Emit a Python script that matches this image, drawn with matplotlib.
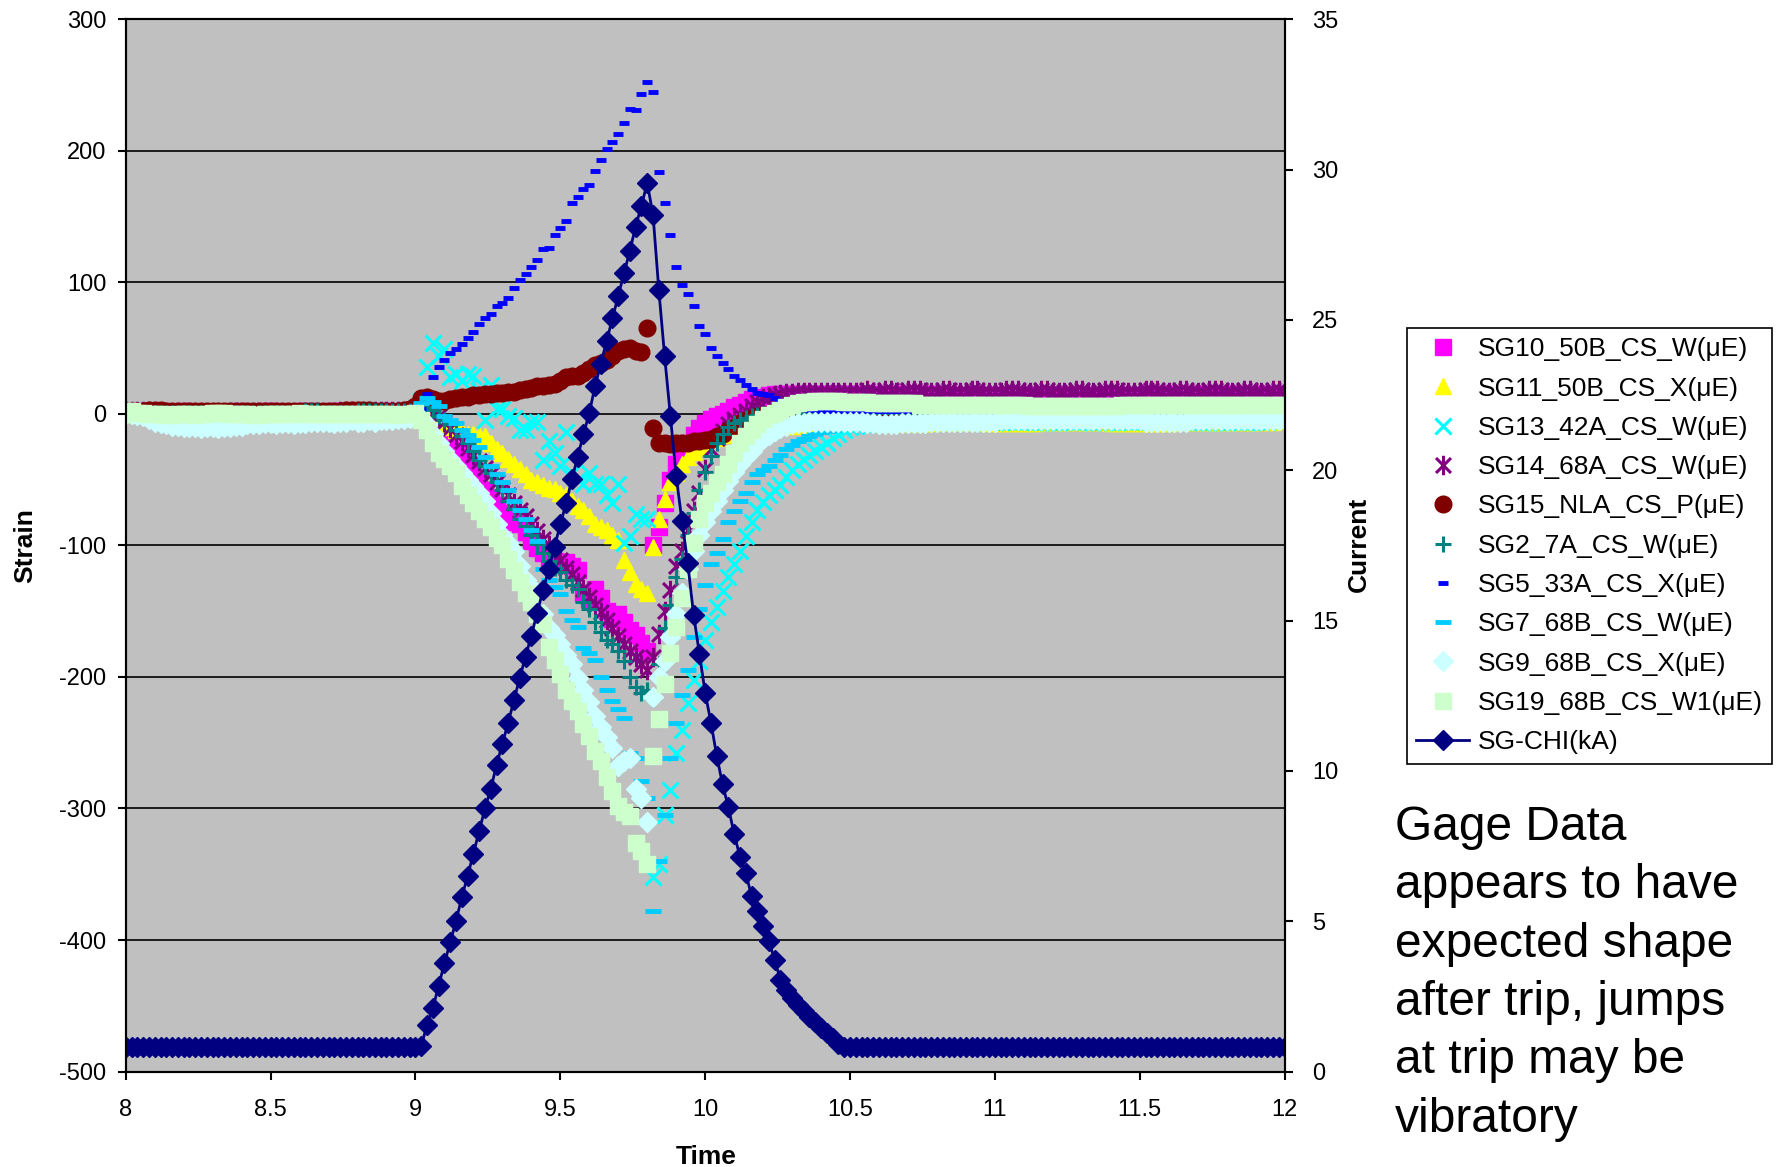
import matplotlib.pyplot as plt
from matplotlib.path import Path

plt.rcParams['font.family'] = ['Liberation Sans', 'DejaVu Sans']
plt.rcParams['axes.unicode_minus'] = False
narrow = ['Liberation Sans Narrow', 'Liberation Sans', 'DejaVu Sans']

# --------- DATA ---------
time_s = [
    8.00, 8.02, 8.04, 8.06, 8.08, 8.10, 8.12, 8.14, 8.16, 8.18,
    8.20, 8.22, 8.24, 8.26, 8.28, 8.30, 8.32, 8.34, 8.36, 8.38,
    8.40, 8.42, 8.44, 8.46, 8.48, 8.50, 8.52, 8.54, 8.56, 8.58,
    8.60, 8.62, 8.64, 8.66, 8.68, 8.70, 8.72, 8.74, 8.76, 8.78,
    8.80, 8.82, 8.84, 8.86, 8.88, 8.90, 8.92, 8.94, 8.96, 8.98,
    9.00, 9.02, 9.04, 9.06, 9.08, 9.10, 9.12, 9.14, 9.16, 9.18,
    9.20, 9.22, 9.24, 9.26, 9.28, 9.30, 9.32, 9.34, 9.36, 9.38,
    9.40, 9.42, 9.44, 9.46, 9.48, 9.50, 9.52, 9.54, 9.56, 9.58,
    9.60, 9.62, 9.64, 9.66, 9.68, 9.70, 9.72, 9.74, 9.76, 9.78,
    9.80, 9.82, 9.84, 9.86, 9.88, 9.90, 9.92, 9.94, 9.96, 9.98,
    10.00, 10.02, 10.04, 10.06, 10.08, 10.10, 10.12, 10.14, 10.16, 10.18,
    10.20, 10.22, 10.24, 10.26, 10.28, 10.30, 10.32, 10.34, 10.36, 10.38,
    10.40, 10.42, 10.44, 10.46, 10.48, 10.50, 10.52, 10.54, 10.56, 10.58,
    10.60, 10.62, 10.64, 10.66, 10.68, 10.70, 10.72, 10.74, 10.76, 10.78,
    10.80, 10.82, 10.84, 10.86, 10.88, 10.90, 10.92, 10.94, 10.96, 10.98,
    11.00, 11.02, 11.04, 11.06, 11.08, 11.10, 11.12, 11.14, 11.16, 11.18,
    11.20, 11.22, 11.24, 11.26, 11.28, 11.30, 11.32, 11.34, 11.36, 11.38,
    11.40, 11.42, 11.44, 11.46, 11.48, 11.50, 11.52, 11.54, 11.56, 11.58,
    11.60, 11.62, 11.64, 11.66, 11.68, 11.70, 11.72, 11.74, 11.76, 11.78,
    11.80, 11.82, 11.84, 11.86, 11.88, 11.90, 11.92, 11.94, 11.96, 11.98,
    12.00,
]

# each strain list: 8.00-9.00 (51), 9.02-10.50 (75), 10.52-12.00 (75)
sg10 = [
    1, 1, 2, 1, 1, 2, 2, 1, 1, 1, 2, 1, 1, 1, 0, 1, 1, 1, 1, 2,
    1, 1, 1, 1, 2, 2, 1, 1, 1, 1, 1, 2, 2, 1, 1, 1, 2, 2, 1, 1,
    2, 2, 1, 1, 2, 2, 1, 1, 2, 2, 2,
    3, -4, -10, -14, -18, -24, -30, -36, -41, -46,
    -52, -58, -64, -69, -75, -79, -82, -84, -90, -97,
    -102, -106, -110, -112, -113, -113, -116, -119, -136, -141,
    -133, -140, -150, -156, -152, -158, -164, -168, -174, -180,
    -100, -86, -68, -50, -38, -30, -22, -16, -11, -7,
    -4, -2, 0, 2, 5, 7, 9, 11, 12, 13,
    14, 15, 15, 15, 15, 15, 15, 15, 15, 15,
    15, 15, 15, 15, 15,
    15, 15, 15, 15, 15, 15, 15, 15, 15, 15, 15, 15, 15, 15, 15, 15, 14, 14, 14, 14,
    14, 14, 14, 14, 14, 14, 14, 14, 14, 14, 14, 14, 14, 14, 14, 14, 14, 14, 14, 14,
    14, 14, 14, 14, 14, 14, 14, 14, 14, 14, 15, 15, 15, 15, 15, 15, 15, 15, 15, 15,
    15, 15, 15, 15, 15, 15, 15, 15, 15, 15, 15, 15, 15, 15, 15,
]
sg11 = [
    0, 0, 0, 0, 0, -1, -1, -1, -1, -1, -2, -2, -2, -2, -2, -2, -1, -1, -1, -1,
    0, 0, 0, 0, -1, -1, -1, 0, 0, 0, 0, 0, 0, 0, 0, 0, 0, 0, 0, 0,
    0, 0, 0, 0, 0, 0, 0, 0, 0, 1, 1,
    2, -2, -4, -6, -8, -10, -12, -13, -15, -15,
    -16, -17, -22, -27, -30, -34, -38, -42, -46, -50,
    -52, -54, -56, -57, -60, -62, -66, -70, -73, -78,
    -84, -86, -88, -92, -96, -111, -120, -129, -133, -136,
    -101, -80, -65, -52, -45, -38, -33, -29, -25, -22,
    -20, -18, -16, -15, -14, -13, -12, -11, -11, -10,
    -10, -10, -9, -9, -9, -8, -8, -8, -7, -7,
    -7, -7, -6, -6, -6,
    -6, -6, -6, -6, -7, -7, -7, -7, -7, -7, -7, -7, -7, -7, -6, -6, -6, -6, -6, -6,
    -6, -6, -6, -7, -7, -7, -7, -7, -7, -7, -7, -7, -6, -6, -6, -6, -6, -6, -6, -6,
    -6, -6, -6, -6, -7, -7, -7, -7, -7, -7, -7, -7, -7, -7, -7, -6, -6, -6, -6, -6,
    -6, -6, -6, -6, -6, -6, -6, -6, -6, -6, -6, -6, -6, -5, -5,
]
sg13 = [
    1, 1, 0, 0, 0, 0, 0, -1, -1, -1, -1, -1, -1, 0, 0, 0, 0, 0, 0, 0,
    0, 0, 0, 0, 0, 0, 0, 0, 0, 0, 0, 0, 0, 0, 0, 0, 0, 0, 0, 0,
    0, 0, 0, 0, 0, 0, 0, 0, 1, 1, 2,
    10, 36, 54, 44, 49, 28, 30, 25, 30, 29,
    18, -5, 22, 4, 4, -2, -3, -12, -12, -6,
    -6, -35, -21, -30, -40, -14, -45, -50, -53, -45,
    -53, -53, -62, -68, -53, -98, -93, -76, -80, -80,
    -352, -342, -305, -286, -258, -240, -220, -202, -188, -172,
    -158, -147, -135, -124, -114, -104, -93, -82, -73, -67,
    -62, -58, -54, -48, -43, -38, -35, -31, -28, -25,
    -22, -18, -15, -12, -10,
    -9, -8, -8, -7, -7, -7, -7, -7, -6, -6, -6, -6, -6, -6, -6, -6, -6, -6, -6, -6,
    -6, -6, -6, -6, -6, -6, -6, -6, -6, -6, -6, -6, -6, -6, -6, -6, -6, -6, -6, -6,
    -6, -6, -6, -6, -6, -6, -6, -6, -6, -6, -6, -6, -6, -6, -6, -6, -6, -6, -6, -6,
    -6, -6, -6, -6, -6, -6, -6, -6, -6, -6, -6, -6, -5, -5, -4,
]
sg14 = [
    2, 2, 2, 2, 2, 1, 1, 1, 1, 1, 1, 1, 1, 1, 1, 1, 1, 1, 1, 1,
    1, 1, 1, 1, 1, 1, 1, 1, 1, 1, 1, 1, 1, 1, 1, 1, 1, 2, 2, 2,
    2, 2, 2, 2, 2, 2, 2, 2, 2, 2, 2,
    3, 1, 0, -2, -6, -11, -16, -21, -26, -31,
    -36, -41, -46, -52, -57, -62, -68, -73, -78, -84,
    -89, -95, -100, -106, -111, -117, -122, -128, -133, -139,
    -145, -151, -157, -163, -169, -175, -180, -185, -190, -195,
    -185, -167, -150, -134, -116, -104, -88, -74, -60, -42,
    -27, -18, -13, -8, -4, -1, 2, 6, 9, 12,
    13, 14, 15, 16, 16, 17, 17, 17, 17, 17,
    17, 17, 17, 17, 17,
    17, 17, 18, 17, 17, 18, 18, 17, 17, 18, 18, 18, 17, 17, 17, 18, 18, 17, 17, 17,
    18, 18, 17, 17, 17, 17, 18, 18, 18, 17, 17, 17, 18, 18, 17, 17, 17, 17, 18, 18,
    17, 17, 17, 18, 18, 18, 17, 17, 17, 17, 18, 18, 18, 17, 17, 17, 18, 18, 17, 17,
    17, 18, 18, 18, 17, 17, 17, 18, 18, 17, 17, 17, 18, 18, 17,
]
sg15 = [
    2, 2, 2, 2, 3, 3, 3, 2, 2, 2, 2, 2, 2, 2, 2, 2, 2, 2, 2, 2,
    2, 2, 2, 2, 2, 2, 2, 2, 2, 2, 2, 2, 2, 2, 2, 2, 2, 2, 3, 3,
    3, 3, 3, 2, 2, 2, 2, 2, 3, 4, 6,
    12, 13, 11, 10, 10, 11, 12, 13, 13, 14,
    14, 15, 15, 16, 16, 17, 17, 18, 19, 20,
    21, 21, 22, 23, 25, 28, 29, 29, 31, 34,
    37, 39, 41, 44, 48, 49, 50, 48, 47, 65,
    -11, -22, -22, -23, -22, -22, -22, -21, -21, -20,
    -19, -17, -15, -12, -10, -7, -5, -3, -2, -1,
    0, 0, 0, 0, 0, 0, 0, 0, 0, 0,
    0, 0, 0, 0, 0,
    0, 0, 0, 0, 1, 1, 1, 0, 0, 0, 0, 0, 0, 0, 0, 0, 0, 0, 0, 0,
    1, 1, 1, 1, 0, 0, 0, 0, 0, 0, 0, 0, 0, 0, 0, 0, 0, 0, 0, 0,
    0, 0, 0, 0, 0, 0, 0, 0, 0, 0, 0, 0, 0, 0, 0, 1, 1, 1, 1, 0,
    0, 0, 0, 0, 0, 0, 0, 0, 0, 0, 0, 0, 0, 0, 0,
]
sg2 = [
    2, 2, 2, 1, 1, 1, 1, 1, 1, 1, 1, 1, 1, 1, 1, 1, 1, 1, 1, 1,
    1, 1, 1, 1, 1, 1, 1, 1, 1, 1, 1, 2, 2, 2, 1, 1, 1, 1, 1, 1,
    2, 2, 2, 2, 2, 2, 2, 2, 2, 2, 3,
    8, 5, 3, -2, -5, -8, -12, -17, -22, -28,
    -35, -40, -45, -52, -58, -66, -72, -80, -85, -92,
    -99, -106, -112, -117, -120, -126, -130, -133, -143, -148,
    -158, -166, -172, -175, -180, -188, -200, -208, -212, -210,
    -217, -190, -163, -145, -124, -110, -92, -75, -58, -44,
    -32, -22, -15, -10, -7, -5, -3, -2, -1, 0,
    0, 0, 1, 1, 1, 1, 1, 1, 1, 1,
    1, 1, 1, 1, 1,
    1, 1, 1, 1, 1, 1, 1, 1, 1, 1, 1, 1, 1, 1, 1, 1, 1, 1, 1, 1,
    1, 1, 1, 1, 1, 2, 2, 2, 2, 1, 1, 1, 1, 1, 1, 1, 1, 1, 1, 1,
    1, 1, 1, 1, 1, 1, 1, 1, 1, 1, 1, 1, 1, 1, 1, 1, 1, 2, 2, 2,
    2, 1, 1, 1, 1, 1, 1, 1, 1, 1, 1, 1, 1, 1, 1,
]
sg5 = [
    1, 1, 1, 1, 1, 1, 1, 1, 1, 1, 1, 1, 1, 1, 1, 1, 1, 1, 1, 1,
    1, 1, 1, 1, 1, 1, 1, 1, 1, 1, 1, 1, 1, 1, 1, 1, 1, 1, 1, 1,
    1, 1, 1, 1, 1, 1, 1, 1, 1, 1, 2,
    4, 15, 28, 36, 41, 46, 49, 53, 58, 62,
    68, 73, 76, 82, 84, 88, 96, 102, 106, 112,
    117, 125, 126, 136, 141, 147, 160, 165, 171, 174,
    185, 193, 201, 207, 213, 221, 232, 231, 243, 252,
    245, 184, 160, 136, 112, 98, 91, 82, 67, 61,
    50, 44, 39, 34, 29, 26, 22, 19, 16, 15,
    14, 12, 10, 8, 6, 5, 4, 3, 3, 2,
    2, 2, 2, 2, 2,
    2, 2, 2, 2, 2, 2, 2, 2, 2, 2, 2, 2, 2, 2, 2, 2, 2, 2, 1, 1,
    1, 1, 1, 1, 1, 1, 1, 1, 1, 1, 1, 1, 1, 1, 1, 1, 1, 1, 1, 1,
    1, 1, 1, 1, 1, 1, 1, 1, 1, 1, 1, 1, 1, 1, 1, 1, 1, 1, 1, 1,
    1, 1, 1, 1, 1, 1, 1, 1, 1, 1, 1, 1, 1, 1, 1,
]
sg7 = [
    0, 0, 0, 0, 0, 0, 0, 0, 0, 0, 0, 0, 0, 0, 0, 0, 0, 0, 0, 0,
    0, 0, 0, 0, 0, 0, 0, 0, 0, 0, 0, 0, 0, 0, 0, 0, 0, 0, 0, 0,
    0, 0, 0, 0, 0, 0, 0, 1, 1, 2, 4,
    8, 12, 9, 6, -2, -5, -7, -12, -16, -20,
    -25, -33, -40, -46, -52, -58, -66, -73, -80, -88,
    -97, -118, -126, -132, -137, -150, -157, -162, -178, -182,
    -187, -200, -210, -218, -224, -231, -258, -262, -279, -292,
    -378, -340, -305, -262, -235, -214, -195, -170, -148, -130,
    -114, -106, -95, -82, -74, -66, -60, -52, -46, -43,
    -40, -35, -31, -27, -24, -21, -19, -17, -15, -14,
    -13, -12, -11, -10, -9,
    -8, -8, -8, -7, -7, -7, -7, -7, -7, -7, -7, -7, -7, -7, -7, -7, -7, -7, -7, -7,
    -7, -7, -7, -7, -7, -7, -7, -7, -7, -7, -7, -7, -7, -7, -7, -7, -7, -7, -7, -7,
    -7, -7, -7, -7, -7, -7, -7, -7, -7, -7, -7, -7, -7, -7, -7, -7, -7, -7, -7, -7,
    -7, -7, -7, -7, -7, -7, -7, -7, -7, -6, -6, -5, -4, -3, -2,
]
sg9 = [
    0, 0, -1, -2, -4, -6, -7, -8, -9, -9, -10, -10, -10, -11, -10, -10, -11, -10, -10, -9,
    -9, -8, -8, -8, -7, -7, -8, -7, -7, -8, -7, -7, -6, -6, -6, -6, -7, -6, -6, -5,
    -6, -6, -5, -6, -5, -5, -5, -4, -4, -3, -2,
    -3, -8, -15, -22, -28, -34, -40, -45, -50, -55,
    -60, -66, -75, -84, -92, -98, -104, -116, -126, -132,
    -137, -152, -163, -168, -175, -183, -190, -201, -210, -219,
    -230, -238, -246, -254, -268, -264, -262, -285, -292, -310,
    -215, -200, -188, -170, -152, -136, -118, -104, -92, -82,
    -74, -66, -58, -51, -44, -38, -33, -28, -23, -19,
    -16, -13, -11, -9, -8, -7, -7, -6, -6, -6,
    -6, -6, -6, -6, -6,
    -6, -6, -7, -7, -8, -8, -8, -8, -7, -7, -7, -7, -7, -6, -6, -6, -6, -6, -6, -6,
    -6, -6, -6, -6, -6, -5, -5, -5, -5, -5, -5, -5, -5, -5, -5, -5, -5, -5, -5, -5,
    -5, -5, -5, -5, -5, -5, -5, -5, -5, -5, -6, -6, -6, -6, -6, -6, -6, -6, -5, -5,
    -5, -5, -5, -5, -5, -5, -5, -5, -5, -5, -5, -5, -5, -5, -5,
]
sg19 = [
    2, 2, 1, 1, 0, 0, 0, -1, -1, 0, 0, 0, -1, 0, 0, 1, 1, 1, 0, 0,
    0, 0, -1, -1, 0, 0, 0, 0, 0, 0, 1, 0, 0, 0, 0, 0, 0, 0, 0, 0,
    0, 0, 0, 0, 0, 0, 0, -1, 0, 0, 1,
    -5, -12, -22, -30, -34, -40, -45, -55, -62, -68,
    -74, -80, -86, -94, -100, -110, -119, -128, -136, -143,
    -152, -160, -177, -187, -198, -210, -218, -226, -236, -245,
    -256, -264, -276, -287, -298, -303, -306, -326, -332, -342,
    -260, -232, -205, -182, -162, -140, -118, -98, -80, -68,
    -60, -52, -46, -38, -30, -22, -17, -12, -8, -4,
    -1, 1, 3, 5, 7, 8, 9, 9, 10, 10,
    10, 10, 10, 9, 9,
    9, 9, 9, 8, 8, 8, 8, 8, 8, 8, 8, 7, 7, 7, 7, 7, 7, 7, 7, 7,
    7, 7, 7, 7, 7, 7, 7, 7, 7, 7, 6, 6, 6, 6, 6, 6, 6, 6, 6, 6,
    6, 6, 6, 6, 6, 6, 7, 7, 7, 7, 7, 7, 7, 7, 7, 7, 7, 7, 7, 7,
    7, 7, 7, 7, 7, 7, 7, 7, 7, 7, 7, 7, 7, 7, 7,
]
chi_ka = [
    0.8, 0.8, 0.8, 0.8, 0.8, 0.8, 0.8, 0.8, 0.8, 0.8, 0.8, 0.8, 0.8, 0.8, 0.8, 0.8, 0.8,
    0.8, 0.8, 0.8, 0.8, 0.8, 0.8, 0.8, 0.8, 0.8, 0.8, 0.8, 0.8, 0.8, 0.8, 0.8, 0.8, 0.8,
    0.8, 0.8, 0.8, 0.8, 0.8, 0.8, 0.8, 0.8, 0.8, 0.8, 0.8, 0.8, 0.8, 0.8, 0.8, 0.8, 0.8,
    0.85, 1.55, 2.1, 2.85, 3.6, 4.3, 5.0, 5.8, 6.5, 7.25,
    8.0, 8.75, 9.4, 10.2, 10.9, 11.6, 12.35, 13.1, 13.8, 14.5,
    15.25, 16.0, 16.7, 17.45, 18.2, 18.9, 19.7, 20.45, 21.2, 21.9,
    22.8, 23.55, 24.3, 25.05, 25.8, 26.55, 27.3, 28.1, 28.8, 29.55,
    28.5, 26.0, 23.8, 21.8, 19.8, 18.3, 16.9, 15.2, 13.9, 12.6,
    11.6, 10.5, 9.55, 8.8, 7.9, 7.15, 6.6, 5.85, 5.35, 4.85,
    4.35, 3.7, 3.05, 2.7, 2.45, 2.2, 2.0, 1.8, 1.65, 1.45,
    1.28, 1.1, 0.92, 0.82, 0.8,
    0.8, 0.8, 0.8, 0.8, 0.8, 0.8, 0.8, 0.8, 0.8, 0.8, 0.8, 0.8, 0.8, 0.8, 0.8,
    0.8, 0.8, 0.8, 0.8, 0.8, 0.8, 0.8, 0.8, 0.8, 0.8, 0.8, 0.8, 0.8, 0.8, 0.8,
    0.8, 0.8, 0.8, 0.8, 0.8, 0.8, 0.8, 0.8, 0.8, 0.8, 0.8, 0.8, 0.8, 0.8, 0.8,
    0.8, 0.8, 0.8, 0.8, 0.8, 0.8, 0.8, 0.8, 0.8, 0.8, 0.8, 0.8, 0.8, 0.8, 0.8,
    0.8, 0.8, 0.8, 0.8, 0.8, 0.8, 0.8, 0.8, 0.8, 0.8, 0.8, 0.8, 0.8, 0.8, 0.8,
]

x_ticks = [8, 8.5, 9, 9.5, 10, 10.5, 11, 11.5, 12]
x_tick_labels = ["8", "8.5", "9", "9.5", "10", "10.5", "11", "11.5", "12"]
strain_ticks = [-500, -400, -300, -200, -100, 0, 100, 200, 300]
current_ticks = [0, 5, 10, 15, 20, 25, 30, 35]

note = "Gage Data\nappears to have\nexpected shape\nafter trip, jumps\nat trip may be\nvibratory"

# --------- STYLE ---------
asterisk = Path([(-1, -1), (1, 1), (-1, 1), (1, -1), (0, -1.3), (0, 1.3)],
                [Path.MOVETO, Path.LINETO, Path.MOVETO, Path.LINETO, Path.MOVETO, Path.LINETO])

strain_series = [
    ("SG10_50B_CS_W(\u03bcE)", sg10, dict(marker='s', ms=11, color='#FF00FF', mec='#FF00FF')),
    ("SG11_50B_CS_X(\u03bcE)", sg11, dict(marker='^', ms=12, color='#FFFF00', mec='#FFFF00')),
    ("SG13_42A_CS_W(\u03bcE)", sg13, dict(marker='x', ms=11, mew=2.2, color='#00FFFF')),
    ("SG14_68A_CS_W(\u03bcE)", sg14, dict(marker=asterisk, ms=14, mew=2.2, color='#800080', mfc='none')),
    ("SG15_NLA_CS_P(\u03bcE)", sg15, dict(marker='o', ms=12, color='#800000', mec='#800000')),
    ("SG2_7A_CS_W(\u03bcE)", sg2, dict(marker='+', ms=12, mew=2.2, color='#008080')),
    ("SG5_33A_CS_X(\u03bcE)", sg5, dict(marker='_', ms=7, mew=3.5, color='#0000FF')),
    ("SG7_68B_CS_W(\u03bcE)", sg7, dict(marker='_', ms=12, mew=3.5, color='#00CCFF')),
    ("SG9_68B_CS_X(\u03bcE)", sg9, dict(marker='D', ms=10, color='#CCFFFF', mec='#CCFFFF')),
    ("SG19_68B_CS_W1(\u03bcE)", sg19, dict(marker='s', ms=12, color='#CCFFCC', mec='#CCFFCC')),
]

# --------- PLOT ---------
fig = plt.figure(figsize=(17.76, 11.67), dpi=100)
ax = fig.add_axes([0.0708, 0.0818, 0.6525, 0.9017])
ax.set_facecolor('#C0C0C0')
ax.set_axisbelow(True)
ax.grid(True, axis='y', color='black', linewidth=1.2)

handles = []
for label, vals, style in strain_series:
    h, = ax.plot(time_s, vals, linestyle='none', label=label, **style)
    handles.append(h)

ax2 = ax.twinx()
h, = ax2.plot(time_s, chi_ka, color='#000080', linewidth=2, marker='D', ms=10,
              mec='#000080', label="SG-CHI(kA)")
handles.append(h)

ax.set_xlim(8, 12)
ax.set_ylim(-500, 300)
ax2.set_ylim(0, 35)
ax.set_xticks(x_ticks)
ax.set_xticklabels(x_tick_labels)
ax.set_yticks(strain_ticks)
ax2.set_yticks(current_ticks)

for a in (ax, ax2):
    for sp in a.spines.values():
        sp.set_linewidth(1.5)
        sp.set_color('black')
ax.tick_params(axis='x', direction='out', length=6, width=1.5, pad=14, labelsize=17)
ax.tick_params(axis='y', direction='out', length=6, width=1.5, pad=8, labelsize=17)
ax2.tick_params(axis='y', direction='out', length=6, width=1.5, pad=14, labelsize=17)
for lab in ax.get_xticklabels() + ax.get_yticklabels() + ax2.get_yticklabels():
    lab.set_family(narrow)

fig.text(25 / 1776, 1 - 546 / 1167, "Strain", rotation=90, ha='center', va='center',
         fontsize=19, fontweight='bold', family=narrow)
fig.text(1359 / 1776, 1 - 544 / 1167, "Current", rotation=90, ha='center', va='center',
         fontsize=19, fontweight='bold', family=narrow)
fig.text(706 / 1776, 1 - 1157 / 1167, "Time", ha='center', va='center',
         fontsize=19, fontweight='bold', family=narrow)

leg = fig.legend(handles=handles, loc='upper left', bbox_to_anchor=(1407 / 1776, 1 - 328 / 1167),
                 fontsize=19, numpoints=1, frameon=True, fancybox=False, framealpha=1,
                 edgecolor='black', handlelength=2.0, handletextpad=0.35, labelspacing=0.58,
                 borderpad=0.35, borderaxespad=0)
leg.get_frame().set_linewidth(1.2)

fig.text(1395 / 1776, 1 - 805 / 1167, note, ha='left', va='top', fontsize=34.5, linespacing=1.38)

fig.savefig("out.png", dpi=100)
